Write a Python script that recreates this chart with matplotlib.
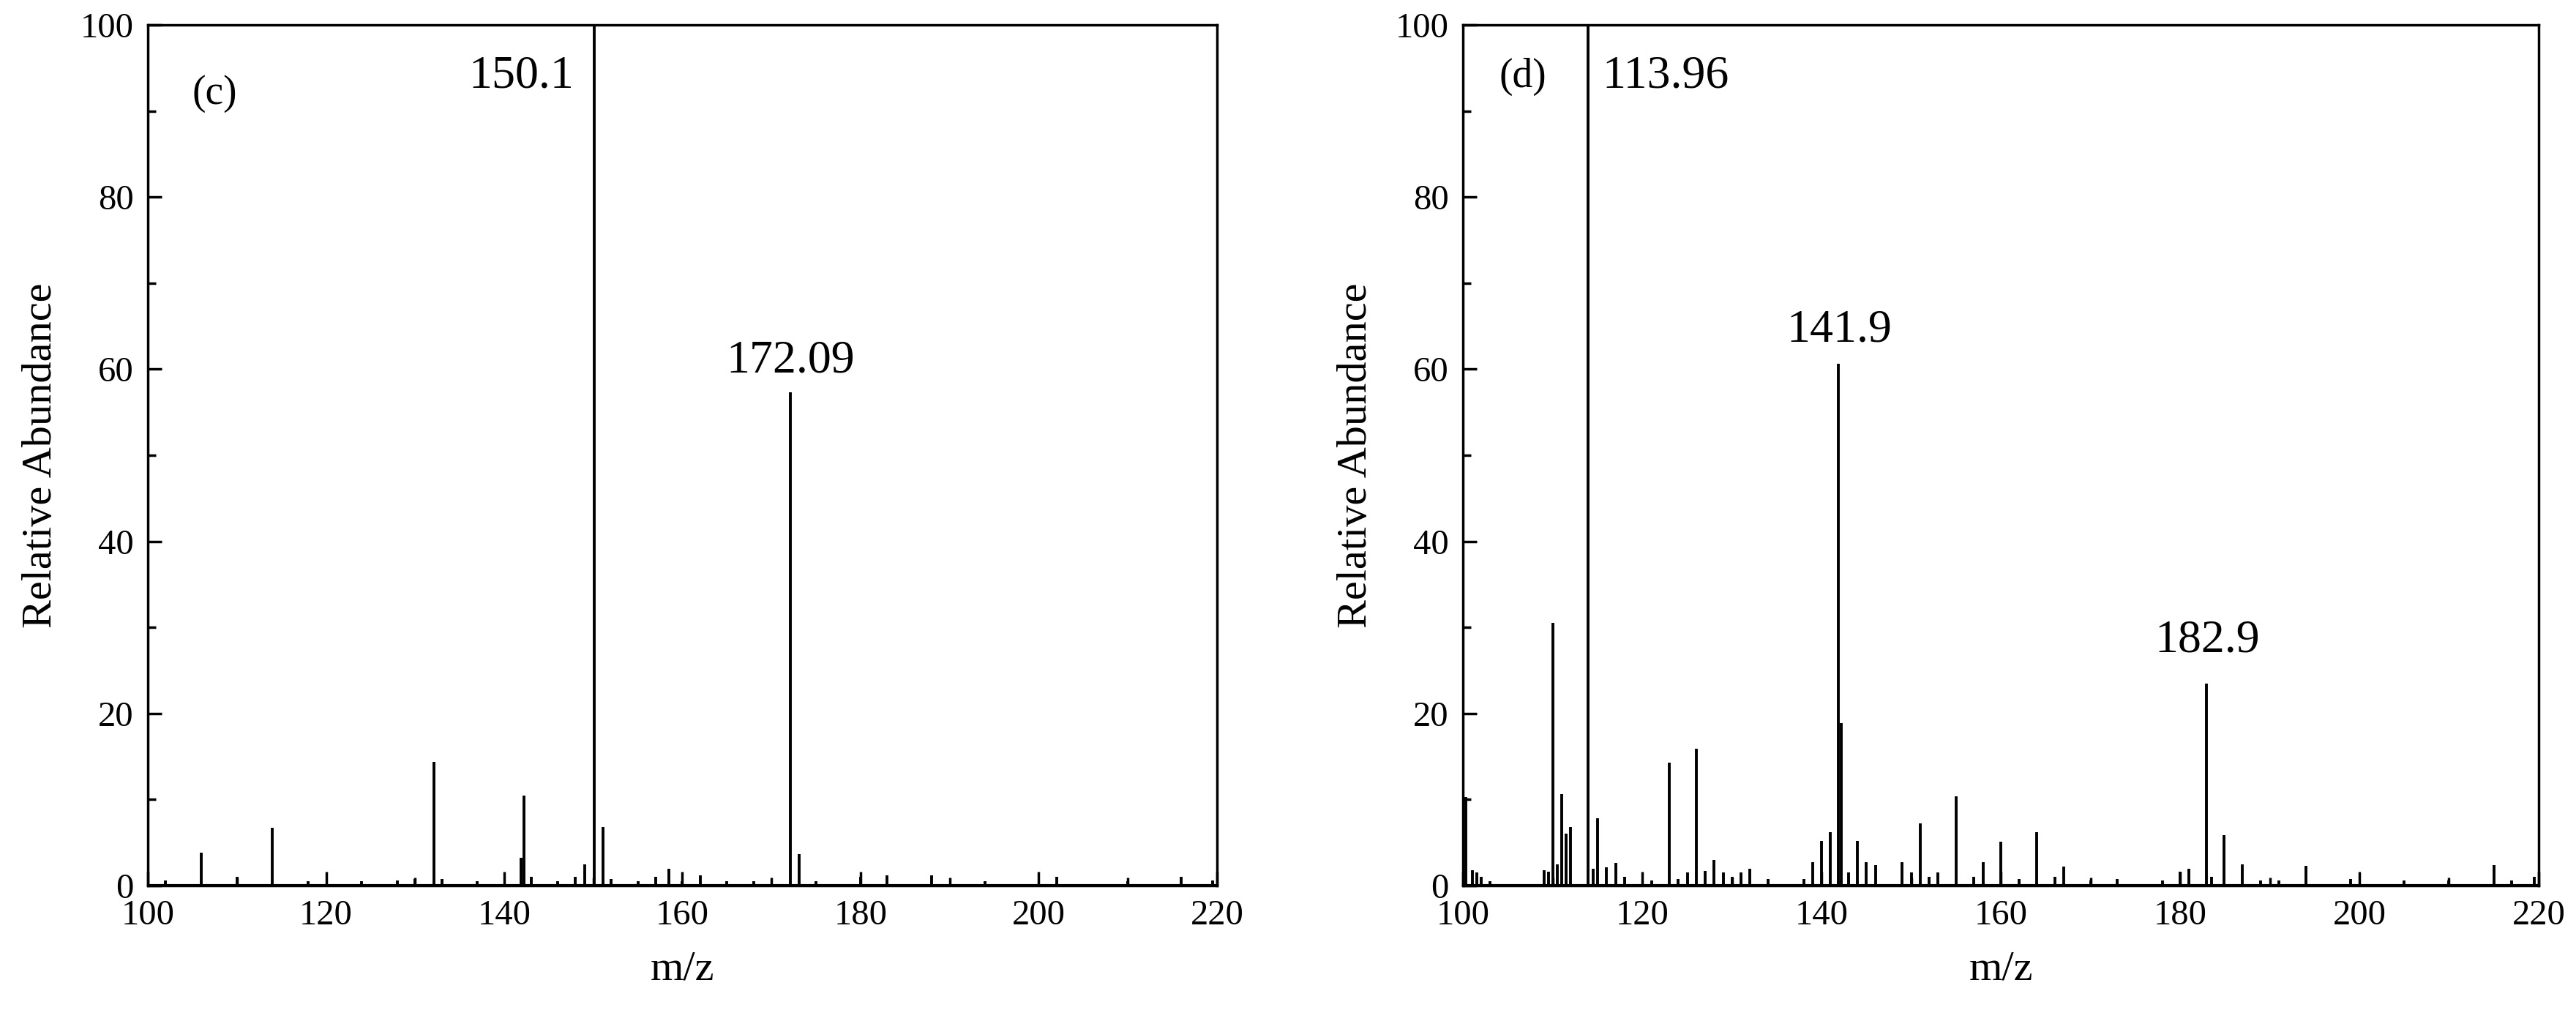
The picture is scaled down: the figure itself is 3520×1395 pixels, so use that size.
import matplotlib.pyplot as plt
from matplotlib.ticker import MultipleLocator

plt.rcParams['font.family'] = ['Liberation Serif', 'DejaVu Serif']

# panel (c) peaks
mz_c = [102, 106, 110, 114, 118, 124, 128, 130, 132.1, 133, 137, 141.9, 142.2, 143, 146, 148, 149,
        150.1, 151.1, 152, 155, 157, 158.5, 160, 162, 165, 168, 172.09, 173.1, 175, 180, 183,
        188, 194, 202, 210, 216, 219.5]
ab_c = [0.6, 3.8, 1.0, 6.7, 0.5, 0.5, 0.6, 0.8, 14.4, 0.8, 0.5, 3.2, 10.5, 1.0, 0.5, 1.0, 2.5,
        100, 6.8, 0.8, 0.5, 1.0, 2.0, 0.5, 1.2, 0.5, 0.5, 57.3, 3.7, 0.5, 1.0, 1.2,
        1.2, 0.5, 1.0, 0.5, 1.0, 0.6]

# panel (d) peaks
mz_d = [100.3, 101, 101.5, 102, 103, 109, 109.5, 110, 110.5, 111, 111.5, 112, 113.96, 114.5,
        115, 116, 117, 118, 121, 123, 124, 125, 126, 127, 128, 129, 130, 131, 132, 134, 138,
        139, 140, 141, 141.9, 142.2, 143, 144, 145, 146, 149, 150, 151, 152, 153, 155, 157,
        158, 160, 162, 164, 166, 167, 170, 173, 178, 180, 181, 182.9, 183.5, 184.9, 186.9,
        189, 191, 194, 199, 205, 210, 215, 217, 219.5]
ab_d = [10.3, 1.8, 1.5, 1.0, 0.5, 1.8, 1.6, 30.5, 2.5, 10.6, 6.0, 6.8, 100, 2.0,
        7.8, 2.1, 2.6, 1.0, 0.6, 14.3, 0.8, 1.5, 15.9, 1.7, 3.0, 1.5, 1.0, 1.5, 2.0, 0.8, 0.8,
        2.7, 5.2, 6.2, 60.6, 18.9, 1.5, 5.2, 2.7, 2.4, 2.7, 1.5, 7.2, 1.0, 1.5, 10.4, 1.0,
        2.7, 5.1, 0.8, 6.2, 1.0, 2.2, 0.6, 0.8, 0.6, 1.6, 2.0, 23.5, 1.0, 5.9, 2.5,
        0.6, 0.6, 2.3, 0.8, 0.6, 0.6, 2.4, 0.6, 1.0]

fig = plt.figure(figsize=(35.2, 13.95), dpi=100)
ax1 = fig.add_axes([0.0574, 0.1326, 0.415, 0.843])
ax2 = fig.add_axes([0.568, 0.1326, 0.4175, 0.843])

for ax, mz, ab in [(ax1, mz_c, ab_c), (ax2, mz_d, ab_d)]:
    ax.vlines(mz, 0, ab, color='black', lw=2.8)
    ax.axhline(0, color='black', lw=3)
    ax.set_xlim(100, 220)
    ax.set_ylim(0, 100)
    ax.xaxis.set_major_locator(MultipleLocator(20))
    ax.xaxis.set_minor_locator(MultipleLocator(10))
    ax.yaxis.set_major_locator(MultipleLocator(20))
    ax.yaxis.set_minor_locator(MultipleLocator(10))
    ax.tick_params(which='both', direction='in', labelsize=35, width=2.5, pad=14)
    ax.tick_params(which='major', length=14)
    ax.tick_params(which='minor', length=8)
    for s in ax.spines.values():
        s.set_linewidth(2.5)
    ax.set_xlabel('m/z', fontsize=42, labelpad=18)
    ax.set_ylabel('Relative Abundance', fontsize=42, labelpad=20)

ax1.text(105, 92, '(c)', fontsize=40, va='center')
ax1.text(147.8, 94, '150.1', fontsize=46, ha='right', va='center')
ax1.text(172.1, 58.5, '172.09', fontsize=46, ha='center', va='bottom')

ax2.text(104, 94, '(d)', fontsize=40, va='center')
ax2.text(115.5, 94, '113.96', fontsize=46, ha='left', va='center')
ax2.text(142, 62, '141.9', fontsize=46, ha='center', va='bottom')
ax2.text(183, 26, '182.9', fontsize=46, ha='center', va='bottom')

fig.savefig('out.png', dpi=100)
